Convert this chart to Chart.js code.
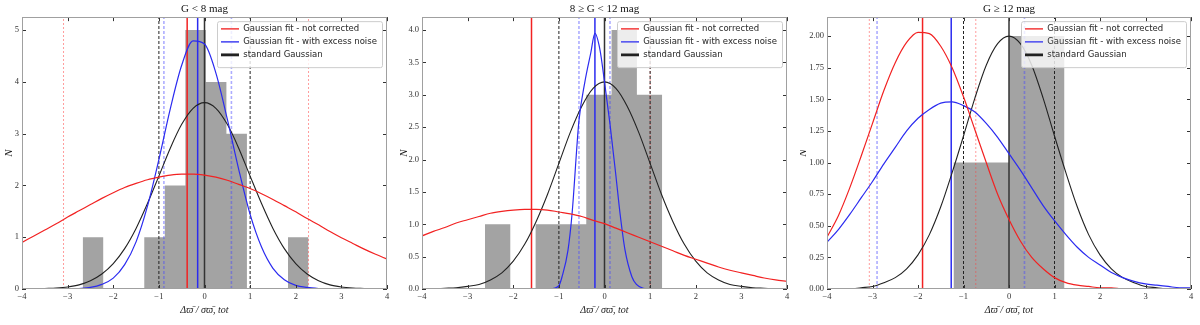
<!DOCTYPE html>
<html lang="en">
<head>
    <meta charset="UTF-8">
    <title>Parallax residuals by magnitude bin</title>
    <script src="https://cdn.jsdelivr.net/npm/chart.js"></script>
    <style>
        body { margin: 0; background: #fff; }
        .wrap { position: relative; width: 1200px; height: 325px; }
        .panel { position: absolute; top: 0; width: 400px; height: 325px; }
    </style>
</head>
<body>
<div class="wrap">
    <div class="panel" style="left:0"><canvas id="c1" width="400" height="325"></canvas></div>
    <div class="panel" style="left:400px"><canvas id="c2" width="400" height="325"></canvas></div>
    <div class="panel" style="left:800px"><canvas id="c3" width="400" height="325"></canvas></div>
</div>
<script>
    const xGrid = [-4, -3.75, -3.5, -3.25, -3, -2.75, -2.5, -2.25, -2, -1.75, -1.5, -1.25, -1, -0.75, -0.5, -0.25,
                   0, 0.25, 0.5, 0.75, 1, 1.25, 1.5, 1.75, 2, 2.25, 2.5, 2.75, 3, 3.25, 3.5, 3.75, 4];

    // --- panel 1: G < 8 mag
    const binEdges1 = [-2.67, -2.22, -1.77, -1.32, -0.87, -0.42, 0.03, 0.48, 0.93, 1.38, 1.83, 2.28];
    const counts1 = [1, 0, 0, 1, 2, 5, 4, 3, 0, 0, 1];
    const redFit1 = [0.90, 1.02, 1.14, 1.26, 1.39, 1.51, 1.63, 1.75, 1.86, 1.96, 2.04, 2.11, 2.16, 2.20, 2.22, 2.22,
                     2.20, 2.16, 2.10, 2.02, 1.94, 1.84, 1.73, 1.61, 1.49, 1.36, 1.24, 1.11, 0.99, 0.88, 0.77, 0.67, 0.58];
    const blueFit1 = [0, 0, 0, 0, 0, 0.01, 0.03, 0.09, 0.21, 0.47, 0.91, 1.60, 2.50, 3.48, 4.32, 4.79,
                      4.73, 4.17, 3.28, 2.31, 1.44, 0.81, 0.40, 0.18, 0.07, 0.03, 0.01, 0, 0, 0, 0, 0, 0];
    const stdFit1 = [0, 0, 0.01, 0.02, 0.04, 0.08, 0.16, 0.29, 0.49, 0.78, 1.17, 1.65, 2.18, 2.72, 3.18, 3.49,
                     3.60, 3.49, 3.18, 2.72, 2.18, 1.65, 1.17, 0.78, 0.49, 0.29, 0.16, 0.08, 0.04, 0.02, 0.01, 0, 0];
    const redMean1 = -0.38, blueMean1 = -0.15;
    const redSigma1 = [-3.09, 2.28], blueSigma1 = [-0.89, 0.59];

    // --- panel 2: 8 <= G < 12 mag
    const binEdges2 = [-2.62, -2.065, -1.51, -0.955, -0.40, 0.155, 0.71, 1.265];
    const counts2 = [1, 0, 1, 1, 3, 4, 3];
    const redFit2 = [0.82, 0.89, 0.95, 1.02, 1.07, 1.12, 1.17, 1.20, 1.22, 1.23, 1.23, 1.22, 1.19, 1.16, 1.12, 1.06,
                     1.01, 0.94, 0.87, 0.80, 0.73, 0.66, 0.59, 0.52, 0.46, 0.40, 0.34, 0.29, 0.25, 0.21, 0.17, 0.14, 0.12];
    const blueX2 = [-4, -1.2, -1.0, -0.93, -0.8, -0.71, -0.56, -0.43, -0.3, -0.21, -0.1, 0, 0.12, 0.25, 0.34, 0.45, 0.6, 0.7, 0.85, 1.0, 4];
    const blueFit2 = [0, 0, 0.05, 0.19, 0.6, 1.17, 2.6, 3.2, 3.65, 3.95, 3.7, 3.2, 2.55, 1.75, 1.17, 0.6, 0.19, 0.07, 0.01, 0, 0];
    const stdFit2 = [0, 0, 0.01, 0.02, 0.04, 0.07, 0.14, 0.25, 0.43, 0.69, 1.04, 1.46, 1.94, 2.42, 2.82, 3.10,
                     3.20, 3.10, 2.82, 2.42, 1.94, 1.46, 1.04, 0.69, 0.43, 0.25, 0.14, 0.07, 0.04, 0.02, 0.01, 0, 0];
    const redMean2 = -1.6, blueMean2 = -0.21;
    const redSigma2 = [1.0], blueSigma2 = [-0.56, 0.12];

    // --- panel 3: G >= 12 mag
    const binEdges3 = [-1.22, 0, 1.22];
    const counts3 = [1, 2];
    const redFit3 = [0.41, 0.58, 0.80, 1.05, 1.31, 1.57, 1.79, 1.95, 2.03, 2.02, 1.92, 1.75, 1.52, 1.26, 1.00, 0.75,
                     0.55, 0.38, 0.25, 0.16, 0.09, 0.05, 0.03, 0.02, 0.01, 0.01, 0, 0, 0, 0, 0, 0, 0];
    const blueFit3 = [0.37, 0.47, 0.59, 0.72, 0.85, 0.99, 1.12, 1.25, 1.35, 1.42, 1.47, 1.48, 1.45, 1.40, 1.31, 1.20,
                      1.07, 0.94, 0.80, 0.66, 0.54, 0.43, 0.33, 0.25, 0.19, 0.13, 0.09, 0.06, 0.04, 0.03, 0.02, 0.01, 0.01];
    const stdFit3 = [0, 0, 0, 0.01, 0.02, 0.05, 0.09, 0.16, 0.27, 0.43, 0.65, 0.92, 1.21, 1.51, 1.77, 1.94,
                     2.00, 1.94, 1.77, 1.51, 1.21, 0.92, 0.65, 0.43, 0.27, 0.16, 0.09, 0.05, 0.02, 0.01, 0, 0, 0];
    const redMean3 = -1.9, blueMean3 = -1.27;
    const redSigma3 = [-3.07, -0.73], blueSigma3 = [-2.9, 0.34];

    const stdMean = 0, stdSigma = [-1, 1];

    const RED = '#f22222';
    const BLUE = '#2b2bf0';
    const BLACK = '#222';
    const SERIF = "'Liberation Serif', 'DejaVu Serif', serif";

    function curve(xs, ys) {
        return xs.map((x, i) => ({ x: x, y: ys[i] }));
    }

    function histSteps(edges, counts) {
        const pts = [{ x: edges[0], y: 0 }];
        counts.forEach((c, i) => pts.push({ x: edges[i], y: c }));
        pts.push({ x: edges[edges.length - 1], y: 0 });
        return pts;
    }

    function vlines(xs, top) {
        const pts = [];
        xs.forEach((x, i) => {
            if (i > 0) pts.push({ x: x, y: null });
            pts.push({ x: x, y: 0 }, { x: x, y: top });
        });
        return pts;
    }

    // frame with inward ticks on all sides, and a legend box drawn over the data
    const framePlugin = {
        id: 'frame',
        afterLayout(chart) {
            const l = chart.legend, ca = chart.chartArea;
            const bx = ca.right - 170, by = ca.top + 4;
            chart.$legendBox = { x: bx, y: by, w: 165, h: 46 };
            l.left = bx - 0.5;
            l.top = by - 1;
            l.width = 170;
            l.height = 50;
            l.right = l.left + l.width;
            l.bottom = l.top + l.height;
        },
        afterDatasetsDraw(chart) {
            const ctx = chart.ctx, b = chart.$legendBox;
            ctx.save();
            ctx.fillStyle = 'rgba(255,255,255,0.8)';
            ctx.strokeStyle = '#cccccc';
            ctx.lineWidth = 1;
            ctx.beginPath();
            ctx.roundRect(b.x + 0.5, b.y + 0.5, b.w, b.h, 2);
            ctx.fill();
            ctx.stroke();
            ctx.restore();
            chart.legend.draw();
        },
        afterDraw(chart) {
            const ctx = chart.ctx, ca = chart.chartArea;
            const xs = chart.scales.x, ys = chart.scales.y;
            ctx.save();
            ctx.strokeStyle = '#333';
            ctx.lineWidth = 1;
            ctx.beginPath();
            xs.ticks.forEach(t => {
                const px = Math.round(xs.getPixelForValue(t.value)) + 0.5;
                ctx.moveTo(px, ca.bottom); ctx.lineTo(px, ca.bottom - 4);
                ctx.moveTo(px, ca.top); ctx.lineTo(px, ca.top + 4);
            });
            ys.ticks.forEach(t => {
                const py = Math.round(ys.getPixelForValue(t.value)) + 0.5;
                ctx.moveTo(ca.left, py); ctx.lineTo(ca.left + 4, py);
                ctx.moveTo(ca.right, py); ctx.lineTo(ca.right - 4, py);
            });
            ctx.stroke();
            ctx.strokeStyle = '#a0a0a0';
            ctx.strokeRect(Math.round(ca.left) + 0.5, Math.round(ca.top) + 0.5,
                Math.round(ca.width) - 1, Math.round(ca.height) - 1);
            ctx.restore();
        }
    };

    const panels = [
        { id: 'c1', title: 'G < 8 mag', yMax: 5.25, yStep: 1, yDec: 0, yWidth: 22, padRight: 13, yTitlePad: 4,
          edges: binEdges1, counts: counts1, red: redFit1, blueX: xGrid, blue: blueFit1, std: stdFit1,
          redMean: redMean1, blueMean: blueMean1, redSig: redSigma1, blueSig: blueSigma1 },
        { id: 'c2', title: '8 \u2265 G < 12 mag', yMax: 4.2, yStep: 0.5, yDec: 1, yWidth: 22, padRight: 13, yTitlePad: -1,
          edges: binEdges2, counts: counts2, red: redFit2, blueX: blueX2, blue: blueFit2, std: stdFit2,
          redMean: redMean2, blueMean: blueMean2, redSig: redSigma2, blueSig: blueSigma2 },
        { id: 'c3', title: 'G \u2265 12 mag', yMax: 2.15, yStep: 0.25, yDec: 2, yWidth: 27, padRight: 9, yTitlePad: -2,
          edges: binEdges3, counts: counts3, red: redFit3, blueX: xGrid, blue: blueFit3, std: stdFit3,
          redMean: redMean3, blueMean: blueMean3, redSig: redSigma3, blueSig: blueSigma3 }
    ];

    panels.forEach(p => {
        const line = { pointRadius: 0, fill: false };
        const datasets = [
            Object.assign({ label: 'Gaussian fit - not corrected', data: curve(xGrid, p.red),
                borderColor: RED, borderWidth: 1.2, pointBorderColor: RED, pointBorderWidth: 1.2,
                cubicInterpolationMode: 'monotone' }, line),
            Object.assign({ label: 'Gaussian fit - with excess noise', data: curve(p.blueX, p.blue),
                borderColor: BLUE, borderWidth: 1.2, pointBorderColor: BLUE, pointBorderWidth: 1.2,
                cubicInterpolationMode: 'monotone' }, line),
            Object.assign({ label: 'standard Gaussian', data: curve(xGrid, p.std),
                borderColor: BLACK, borderWidth: 1.1, pointBorderColor: BLACK, pointBorderWidth: 2.6,
                cubicInterpolationMode: 'monotone' }, line),
            Object.assign({ label: 'red mean', data: vlines([p.redMean], p.yMax), borderColor: RED, borderWidth: 1.5 }, line),
            Object.assign({ label: 'blue mean', data: vlines([p.blueMean], p.yMax), borderColor: BLUE, borderWidth: 1.5 }, line),
            Object.assign({ label: 'std mean', data: vlines([stdMean], p.yMax), borderColor: '#333', borderWidth: 1.5 }, line),
            Object.assign({ label: 'std sigma', data: vlines(stdSigma, p.yMax), borderColor: '#222',
                borderWidth: 1, borderDash: [3, 2] }, line),
            Object.assign({ label: 'blue sigma', data: vlines(p.blueSig, p.yMax), borderColor: 'rgba(70,70,255,0.45)',
                borderWidth: 1.6, borderDash: [3, 2] }, line),
            Object.assign({ label: 'red sigma', data: vlines(p.redSig, p.yMax), borderColor: 'rgba(255,60,60,0.5)',
                borderWidth: 1, borderDash: [2, 2] }, line),
            { label: 'histogram', data: histSteps(p.edges, p.counts), stepped: true, fill: 'origin',
              backgroundColor: '#a3a3a3', borderColor: 'rgba(0,0,0,0)', borderWidth: 1, pointRadius: 0 }
        ];

        new Chart(document.getElementById(p.id), {
            type: 'line',
            data: { datasets: datasets },
            plugins: [framePlugin],
            options: {
                responsive: false,
                animation: false,
                events: [],
                layout: { padding: { left: 0, right: p.padRight, top: 0, bottom: 0 } },
                plugins: {
                    title: {
                        display: true, text: p.title, fullSize: false, color: '#111',
                        font: { family: SERIF, size: 11, weight: 'normal', lineHeight: 1.15 },
                        padding: { top: 2.5, bottom: 2 }
                    },
                    legend: {
                        position: 'chartArea',
                        align: 'start',
                        labels: {
                            usePointStyle: true, pointStyle: 'line', pointStyleWidth: 18,
                            padding: 4.5, color: '#333',
                            font: { family: "'DejaVu Sans', sans-serif", size: 8.5 },
                            filter: item => item.datasetIndex < 3
                        }
                    },
                    tooltip: { enabled: false }
                },
                scales: {
                    x: {
                        type: 'linear', min: -4, max: 4,
                        afterFit: s => { s.height = 36; },
                        grid: { display: false, drawTicks: false },
                        border: { display: false },
                        ticks: {
                            stepSize: 1, padding: 3, color: '#333', maxRotation: 0,
                            font: { family: SERIF, size: 8.5 },
                            callback: v => v < 0 ? '\u2212' + Math.abs(v) : String(v)
                        },
                        title: {
                            display: true, text: '\u0394\u03d6\u0304 / \u03c3\u03d6\u0304, tot', color: '#222',
                            font: { family: SERIF, size: 10, style: 'italic', lineHeight: 1.2 },
                            padding: { top: 0, bottom: 9 }
                        }
                    },
                    y: {
                        type: 'linear', min: 0, max: p.yMax,
                        afterFit: s => { s.width = p.yWidth; },
                        grid: { display: false, drawTicks: false },
                        border: { display: false },
                        ticks: {
                            stepSize: p.yStep, includeBounds: false, padding: 3, color: '#333',
                            font: { family: SERIF, size: 8.5 },
                            callback: v => v.toFixed(p.yDec)
                        },
                        title: {
                            display: true, text: 'N', color: '#222',
                            font: { family: SERIF, size: 11, style: 'italic', lineHeight: 1 },
                            padding: { top: p.yTitlePad, bottom: 0 }
                        }
                    }
                }
            }
        });
    });
</script>
</body>
</html>
